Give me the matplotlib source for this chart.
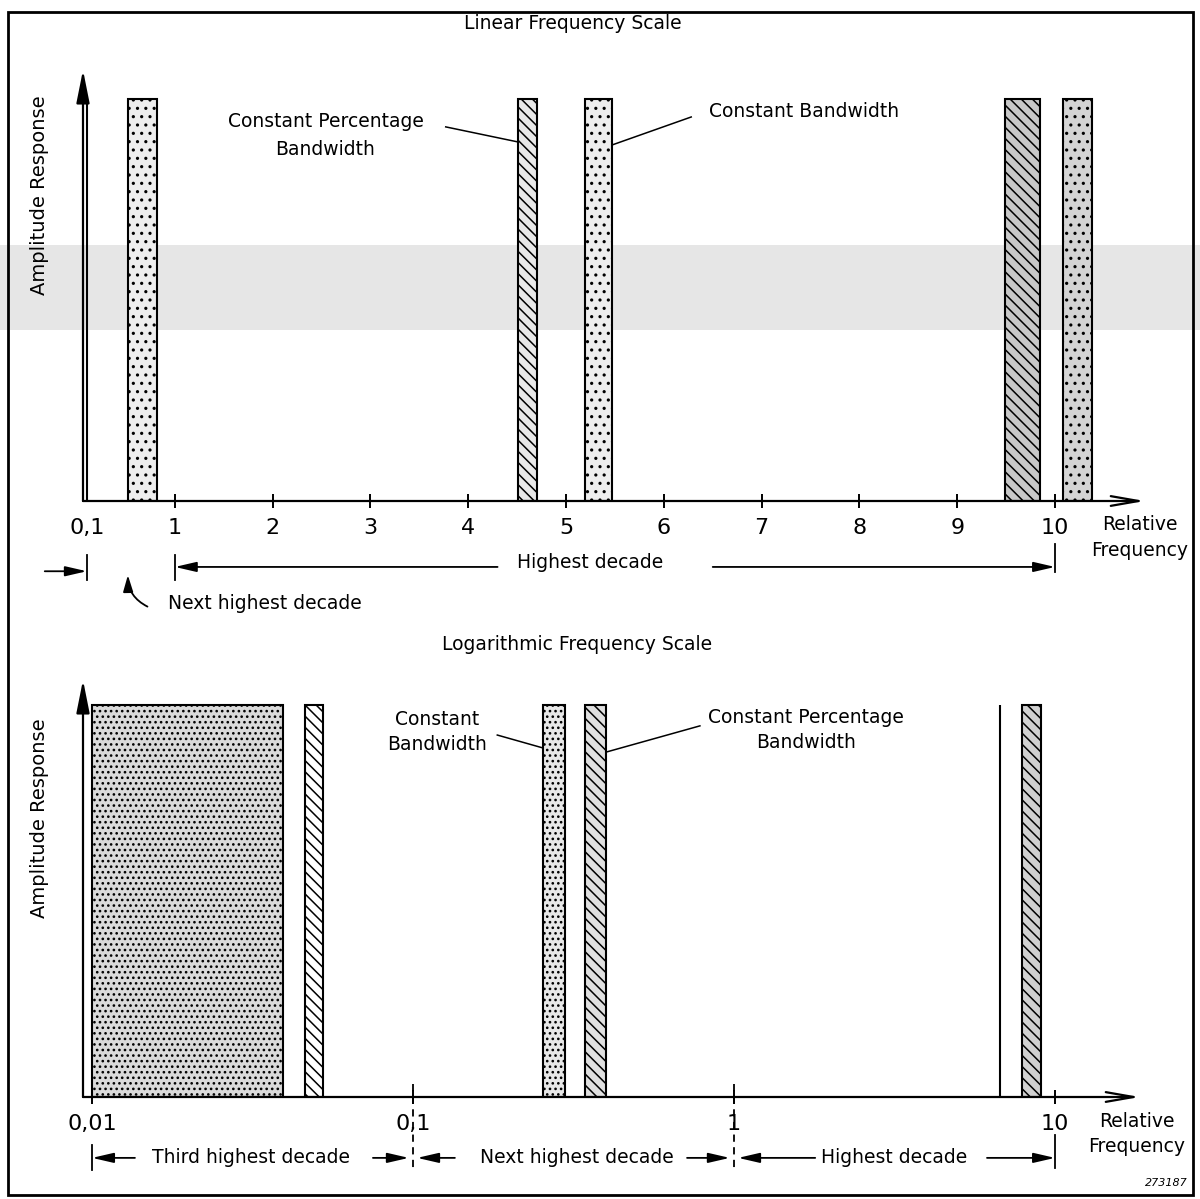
import matplotlib.pyplot as plt
from matplotlib.patches import Rectangle

plt.rcParams['font.family'] = ['DejaVu Sans']
plt.rcParams['hatch.linewidth'] = 1.1

# --- linear frequency scale (upper panel) ---
lin_ticks = [0.1, 1, 2, 3, 4, 5, 6, 7, 8, 9, 10]
lin_tick_labels = ['0,1', '1', '2', '3', '4', '5', '6', '7', '8', '9', '10']
# constant percentage bandwidth filters (hatched)
lin_cpb_lo = [0.098, 4.51, 9.49]
lin_cpb_hi = [0.102, 4.70, 9.85]
# constant bandwidth filters (dotted)
lin_cb_lo = [0.52, 5.19, 10.08]
lin_cb_hi = [0.82, 5.47, 10.38]

# --- logarithmic frequency scale (lower panel) ---
log_ticks = [0.01, 0.1, 1, 10]
log_tick_labels = ['0,01', '0,1', '1', '10']
log_cb_lo = [0.01, 0.254, 6.72]
log_cb_hi = [0.0394, 0.297, 6.76]
log_cpb_lo = [0.046, 0.343, 7.89]
log_cpb_hi = [0.0526, 0.399, 9.04]

amplitude = 1.0
TXT = 13.5


def px_box(l, r, t, b):
    return [l / 1200, 1 - b / 1199, (r - l) / 1200, (b - t) / 1199]


def setup(ax):
    for s in ax.spines.values():
        s.set_visible(False)
    ax.patch.set_alpha(0)
    ax.set_yticks([])
    ax.tick_params(axis='x', direction='inout', length=10, width=1.4, pad=7, labelsize=16)
    ax.annotate('', xy=(0, 1), xytext=(0, 0), xycoords='axes fraction',
                arrowprops=dict(arrowstyle='-|>,head_length=2.0,head_width=0.4', lw=1.6,
                                color='k', shrinkA=0, shrinkB=0))
    ax.annotate('', xy=(1, 0), xytext=(0, 0), xycoords='axes fraction',
                arrowprops=dict(arrowstyle='->,head_length=2.0,head_width=0.35', lw=1.6,
                                color='k', shrinkA=0, shrinkB=0))


def dim_arrow(ax, x_tail, x_head, y):
    ax.annotate('', xy=(x_head, y), xytext=(x_tail, y), xycoords=ax.get_xaxis_transform(),
                arrowprops=dict(arrowstyle='-|>,head_length=1.3,head_width=0.3', lw=1.3,
                                color='k', shrinkA=0, shrinkB=0),
                annotation_clip=False)


def marker(ax, x, y0, y1, ls='-'):
    ax.plot([x, x], [y0, y1], transform=ax.get_xaxis_transform(), clip_on=False,
            color='k', lw=1.3, ls=ls)


def leader(ax, x0, y0, x1, y1):
    ax.plot([x0, x1], [y0, y1], transform=ax.get_xaxis_transform(), clip_on=False,
            color='k', lw=1.1)


fig = plt.figure(figsize=(12, 11.99), dpi=100)

# faint grey band left by the scan
fig.add_artist(Rectangle((0, 1 - 330 / 1199), 1, 85 / 1199, transform=fig.transFigure,
                         facecolor='#e6e6e6', edgecolor='none', zorder=0))
# outer frame
fig.add_artist(Rectangle((8 / 1200, 1 - 1195 / 1199), 1185 / 1200, 1183 / 1199,
                         transform=fig.transFigure, fill=False, lw=2, edgecolor='k'))

# ---------------- upper panel ----------------
ax1 = fig.add_axes(px_box(83, 1145, 70, 501))
setup(ax1)
ax1.set_xlim(0.061, 10.92)
ax1.set_ylim(0, 1.072)
ax1.set_xticks(lin_ticks, lin_tick_labels)
ax1.get_xticklines()[0].set_visible(False)

ax1.bar(lin_cb_lo, [amplitude] * 3, width=[h - l for l, h in zip(lin_cb_lo, lin_cb_hi)],
        align='edge', facecolor=['#eeeeee', '#eeeeee', '#d4d4d4'], edgecolor='k',
        lw=1.5, hatch='..')
ax1.bar(lin_cpb_lo, [amplitude] * 3, width=[h - l for l, h in zip(lin_cpb_lo, lin_cpb_hi)],
        align='edge', facecolor=['white', '#e8e8e8', '#c8c8c8'], edgecolor='k',
        lw=1.5, hatch='\\\\\\')

xt = ax1.get_xaxis_transform()
ax1.text(5.07, 1.107, 'Linear Frequency Scale', transform=xt, ha='center', va='center', size=TXT)
ax1.text(-0.0405, 0.71, 'Amplitude Response', transform=ax1.transAxes, rotation=90,
         ha='center', va='center', size=TXT + 0.5)
ax1.text(2.54, 0.847, 'Constant Percentage\nBandwidth', transform=xt, ha='center', va='center',
         size=TXT, linespacing=1.6)
leader(ax1, 3.77, 0.868, lin_cpb_lo[1], 0.833)
ax1.text(7.43, 0.903, 'Constant Bandwidth', transform=xt, ha='center', va='center', size=TXT)
leader(ax1, 6.28, 0.891, lin_cb_hi[1], 0.826)
ax1.text(10.87, -0.084, 'Relative\nFrequency', transform=xt, ha='center', va='center',
         size=TXT, linespacing=1.45)

# decade annotations under the linear axis
dim_arrow(ax1, 4.30, 1, -0.153)
dim_arrow(ax1, 6.50, 10, -0.153)
ax1.text(5.25, -0.142, 'Highest decade', transform=xt, ha='center', va='center', size=TXT)
marker(ax1, 1, -0.125, -0.183)
marker(ax1, 10, -0.10, -0.165)
marker(ax1, 0.1, -0.125, -0.183)
dim_arrow(ax1, -0.33, 0.1, -0.163)
ax1.annotate('', xy=(0.52, -0.172), xytext=(0.72, -0.245), xycoords=xt,
             arrowprops=dict(arrowstyle='-|>,head_length=1.0,head_width=0.3', lw=1.3,
                             color='k', shrinkA=0, shrinkB=0,
                             connectionstyle='arc3,rad=-0.3'),
             annotation_clip=False)
ax1.text(0.93, -0.237, 'Next highest decade', transform=xt, ha='left', va='center', size=TXT)

# ---------------- lower panel ----------------
ax2 = fig.add_axes(px_box(83, 1140, 680, 1097))
setup(ax2)
ax2.set_xscale('log')
ax2.set_xlim(0.00937, 18.4)
ax2.set_ylim(0, 1.064)
ax2.set_xticks(log_ticks, log_tick_labels)
ax2.xaxis.set_minor_locator(plt.NullLocator())

ax2.bar(log_cb_lo, [amplitude] * 3, width=[h - l for l, h in zip(log_cb_lo, log_cb_hi)],
        align='edge', facecolor=['#dadada', '#e8e8e8', 'white'], edgecolor='k',
        lw=1.5, hatch='...')
ax2.bar(log_cpb_lo, [amplitude] * 3, width=[h - l for l, h in zip(log_cpb_lo, log_cpb_hi)],
        align='edge', facecolor=['white', '#e0e0e0', '#d0d0d0'], edgecolor='k',
        lw=1.5, hatch='\\\\\\')

xt2 = ax2.get_xaxis_transform()
ax2.text(0.324, 1.084, 'Logarithmic Frequency Scale', transform=xt2, ha='center', va='center',
         size=TXT)
ax2.text(-0.0407, 0.669, 'Amplitude Response', transform=ax2.transAxes, rotation=90,
         ha='center', va='center', size=TXT + 0.5)
ax2.text(0.119, 0.875, 'Constant\nBandwidth', transform=xt2, ha='center', va='center',
         size=TXT, linespacing=1.45)
leader(ax2, 0.183, 0.868, log_cb_lo[1], 0.837)
ax2.text(1.676, 0.880, 'Constant Percentage\nBandwidth', transform=xt2, ha='center',
         va='center', size=TXT, linespacing=1.45)
leader(ax2, 0.783, 0.890, log_cpb_hi[1], 0.827)
ax2.text(18.0, -0.089, 'Relative\nFrequency', transform=xt2, ha='center', va='center',
         size=TXT, linespacing=1.45)

# decade annotations under the log axis
yd = -0.146
dim_arrow(ax2, 0.0136, 0.01, yd)
ax2.text(0.0313, yd, 'Third highest decade', transform=xt2, ha='center', va='center', size=TXT)
dim_arrow(ax2, 0.075, 0.097, yd)
dim_arrow(ax2, 0.135, 0.103, yd)
ax2.text(0.324, yd, 'Next highest decade', transform=xt2, ha='center', va='center', size=TXT)
dim_arrow(ax2, 0.714, 0.97, yd)
dim_arrow(ax2, 1.79, 1.03, yd)
ax2.text(3.15, yd, 'Highest decade', transform=xt2, ha='center', va='center', size=TXT)
dim_arrow(ax2, 6.14, 10, yd)
marker(ax2, 0.01, -0.115, -0.175)
marker(ax2, 0.1, 0.03, -0.175, ls=(0, (4, 3)))
marker(ax2, 1, 0.03, -0.175, ls=(0, (4, 3)))
marker(ax2, 10, -0.09, -0.17)

fig.text(1188 / 1200, 1 - 1183 / 1199, '273187', ha='right', va='center', size=8, style='italic')

fig.savefig('out.png', dpi=100)
